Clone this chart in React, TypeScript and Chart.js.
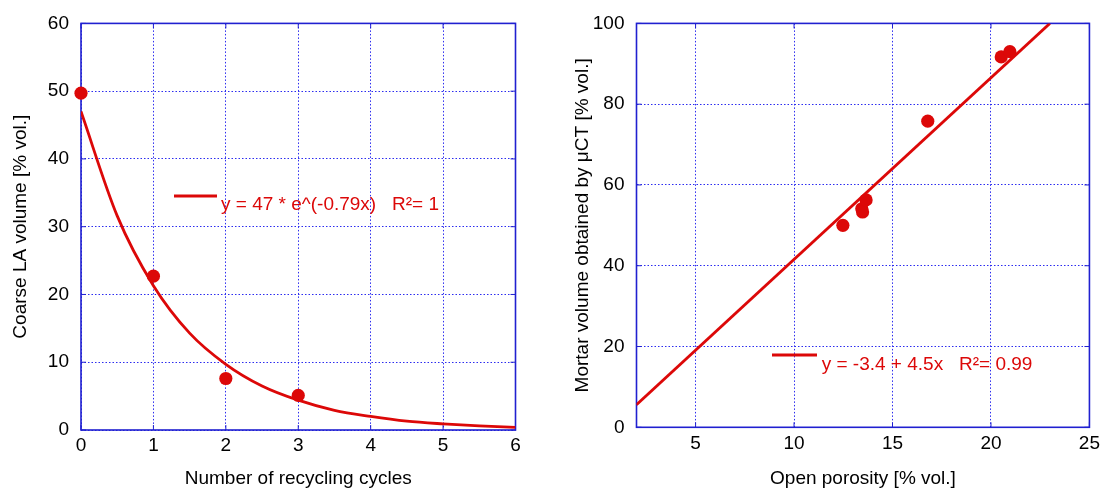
import React, { useEffect, useRef } from "react";
import { Chart, registerables } from "chart.js";

Chart.register(...registerables);

// ---------- data ----------
const cycles = [0, 1, 2, 3];
const coarseLA = [49.7, 22.7, 7.6, 5.1];

const expFitX = [0, 0.5, 1, 1.5, 2, 2.5, 3, 3.5, 4, 4.5, 5, 5.5, 6];
const expFitY = [47.0, 31.6, 21.3, 14.3, 9.7, 6.5, 4.4, 2.9, 2.0, 1.3, 0.9, 0.6, 0.4];

const porosity = [12.48, 13.44, 13.48, 13.66, 16.79, 20.52, 20.96];
const mortar = [50.0, 54.1, 53.3, 56.3, 75.8, 91.7, 93.0];

const linFitX = [2, 22.99];
const linFitY = [5.6, 100.0];

const leftLegendText = "y = 47 * e^(-0.79x)   R\u00B2= 1";
const rightLegendText = "y = -3.4 + 4.5x   R\u00B2= 0.99";

const leftXTitle = "Number of recycling cycles";
const leftYTitle = "Coarse LA volume [% vol.]";
const rightXTitle = "Open porosity [% vol.]";
const rightYTitle = "Mortar volume obtained by \u03BCCT [% vol.]";

// ---------- styles ----------
const RED = "#dc0808";
const BORDER = "#2020d0";
const GRID = "#2c2cf0";
const FONT = "'Liberation Sans', Arial, sans-serif";
const FS = 19;

type Legend = { x1: number; x2: number; y: number; tx: number; ty: number; text: string };

function makeOverlay(legend: Legend) {
  return {
    id: "overlay",
    beforeDatasetsDraw(chart: any) {
      const { ctx, chartArea: a } = chart;
      const xs = chart.scales.x;
      const ys = chart.scales.y;
      ctx.save();
      ctx.strokeStyle = BORDER;
      ctx.lineWidth = 1;
      const seg = (x1: number, y1: number, x2: number, y2: number) => {
        ctx.beginPath();
        ctx.moveTo(x1, y1);
        ctx.lineTo(x2, y2);
        ctx.stroke();
      };
      xs.ticks.forEach((t: any) => {
        const p = xs.getPixelForValue(t.value);
        seg(p, a.bottom, p, a.bottom - 5);
        seg(p, a.top, p, a.top + 5);
      });
      ys.ticks.forEach((t: any) => {
        const p = ys.getPixelForValue(t.value);
        seg(a.left, p, a.left + 5, p);
        seg(a.right, p, a.right - 5, p);
      });
      ctx.lineWidth = 1.6;
      ctx.strokeRect(a.left, a.top, a.right - a.left, a.bottom - a.top);
      ctx.restore();
    },
    afterDraw(chart: any) {
      const { ctx } = chart;
      ctx.save();
      ctx.strokeStyle = RED;
      ctx.lineWidth = 3;
      ctx.beginPath();
      ctx.moveTo(legend.x1, legend.y);
      ctx.lineTo(legend.x2, legend.y);
      ctx.stroke();
      ctx.fillStyle = RED;
      ctx.font = `${FS}px ${FONT}`;
      ctx.textBaseline = "alphabetic";
      ctx.textAlign = "left";
      ctx.fillText(legend.text, legend.tx, legend.ty);
      ctx.restore();
    },
  };
}

function axis(opts: {
  min: number;
  max: number;
  step: number;
  title: string;
  size: number;
  tickPad: number;
  titlePad: any;
  horizontal: boolean;
}) {
  return {
    type: "linear",
    min: opts.min,
    max: opts.max,
    position: opts.horizontal ? "bottom" : "left",
    afterFit(scale: any) {
      if (opts.horizontal) scale.height = opts.size;
      else scale.width = opts.size;
    },
    ticks: {
      stepSize: opts.step,
      includeBounds: false,
      padding: opts.tickPad,
      color: "#000",
      font: { family: FONT, size: FS },
    },
    grid: {
      color: GRID,
      lineWidth: 1,
      drawTicks: false,
    },
    border: { display: false, dash: [1.5, 2] },
    title: {
      display: true,
      text: opts.title,
      color: "#000",
      font: { family: FONT, size: FS },
      padding: opts.titlePad,
    },
  };
}

function useChart(ref: React.RefObject<HTMLCanvasElement>, build: () => any) {
  useEffect(() => {
    if (!ref.current) return;
    const chart = new Chart(ref.current, build());
    return () => chart.destroy();
  }, []);
}

export default function App() {
  const leftRef = useRef<HTMLCanvasElement>(null);
  const rightRef = useRef<HTMLCanvasElement>(null);

  useChart(leftRef, () => ({
    type: "scatter",
    data: {
      datasets: [
        {
          label: "fit",
          data: expFitX.map((x, i) => ({ x, y: expFitY[i] })),
          showLine: true,
          cubicInterpolationMode: "monotone",
          borderColor: RED,
          borderWidth: 2.8,
          pointRadius: 0,
          order: 2,
        },
        {
          label: "data",
          data: cycles.map((x, i) => ({ x, y: coarseLA[i] })),
          showLine: false,
          pointRadius: 6.6,
          pointBackgroundColor: RED,
          pointBorderWidth: 0,
          clip: false,
          order: 1,
        },
      ],
    },
    options: {
      animation: false,
      responsive: false,
      layout: { padding: { left: 0, right: 29.5, top: 19, bottom: 0 } },
      plugins: { legend: { display: false }, tooltip: { enabled: false } },
      scales: {
        x: axis({ min: 0, max: 6, step: 1, title: leftXTitle, size: 60, tickPad: 4, titlePad: { top: 0, bottom: 0 }, horizontal: true }),
        y: axis({ min: 0, max: 60, step: 10, title: leftYTitle, size: 81, tickPad: 12, titlePad: { top: 9, bottom: 0 }, horizontal: false }),
      },
    },
    plugins: [makeOverlay({ x1: 174, x2: 217, y: 196, tx: 221, ty: 209.5, text: leftLegendText })],
  }));

  useChart(rightRef, () => ({
    type: "scatter",
    data: {
      datasets: [
        {
          label: "fit",
          data: linFitX.map((x, i) => ({ x, y: linFitY[i] })),
          showLine: true,
          borderColor: RED,
          borderWidth: 2.8,
          pointRadius: 0,
          order: 2,
        },
        {
          label: "data",
          data: porosity.map((x, i) => ({ x, y: mortar[i] })),
          showLine: false,
          pointRadius: 6.6,
          pointBackgroundColor: RED,
          pointBorderWidth: 0,
          clip: false,
          order: 1,
        },
      ],
    },
    options: {
      animation: false,
      responsive: false,
      layout: { padding: { left: 0, right: 14, top: 20.7, bottom: 0 } },
      plugins: { legend: { display: false }, tooltip: { enabled: false } },
      scales: {
        x: axis({ min: 2, max: 25, step: 5, title: rightXTitle, size: 62.7, tickPad: 5, titlePad: { top: 0, bottom: 0 }, horizontal: true }),
        y: axis({ min: 0, max: 100, step: 20, title: rightYTitle, size: 86.5, tickPad: 12, titlePad: { top: 21, bottom: 0 }, horizontal: false }),
      },
    },
    plugins: [makeOverlay({ x1: 222, x2: 267, y: 355, tx: 271.7, ty: 369.5, text: rightLegendText })],
  }));

  return (
    <div style={{ position: "absolute", left: 0, top: 0, width: 1105, height: 490, background: "#fff" }}>
      <canvas ref={leftRef} width={545} height={490} style={{ position: "absolute", left: 0, top: 0, width: 545, height: 490 }} />
      <canvas ref={rightRef} width={555} height={490} style={{ position: "absolute", left: 550, top: 0, width: 555, height: 490 }} />
    </div>
  );
}
